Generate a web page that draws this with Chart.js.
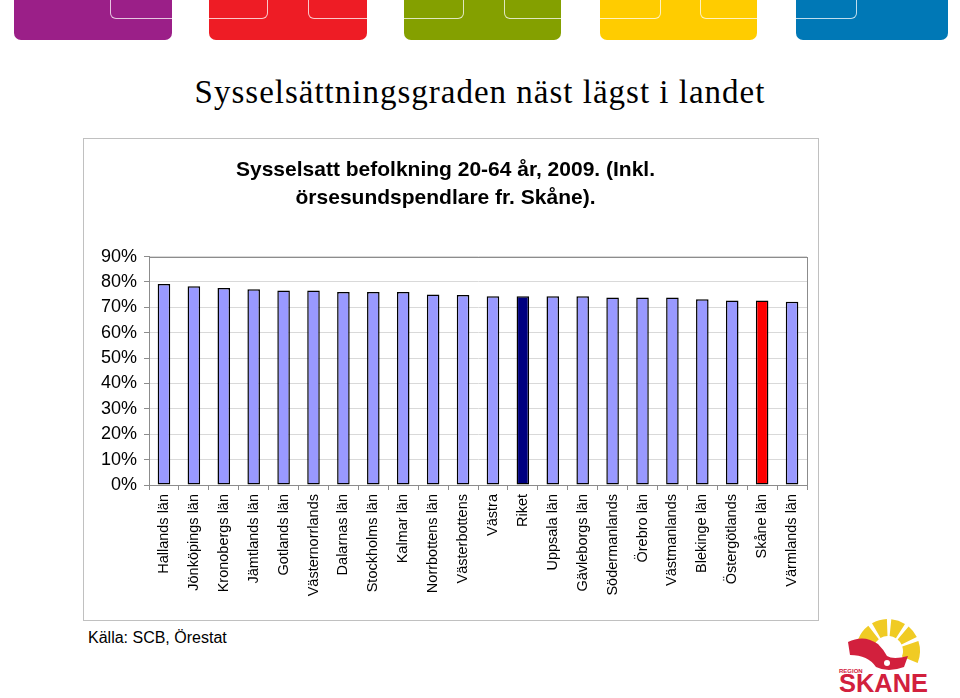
<!DOCTYPE html>
<html>
<head>
<meta charset="utf-8">
<script src="https://cdn.jsdelivr.net/npm/chart.js@4/dist/chart.umd.min.js"></script>
<style>
  body { margin: 0; width: 960px; height: 698px; background: #fff; position: relative; overflow: hidden; font-family: "Liberation Sans", Arial, sans-serif; }
  .tab { position: absolute; top: 0; height: 40px; border-radius: 0 0 7px 7px; overflow: hidden; }
  .notch { position: absolute; border: 1px solid rgba(255,255,255,0.75); }
  #headline { position: absolute; left: 0; width: 960px; top: 76px; text-align: center; font-family: "Liberation Serif", "Times New Roman", serif; font-size: 33px; line-height: 33px; letter-spacing: 1px; color: #000; }
  #frame { position: absolute; left: 83px; top: 138px; width: 736px; height: 483px; border: 1px solid #c0c0c0; box-sizing: border-box; }
  #source { position: absolute; left: 88px; top: 630px; font-size: 16px; line-height: 16px; color: #000; }
  #logo { position: absolute; left: 830px; top: 605px; }
</style>
</head>
<body>
<div class="tab" style="left:14px;width:158px;background:#9b1f88;">
  <div class="notch" style="left:96px;top:-8px;width:80px;height:26px;border-right:none;border-top:none;border-radius:0 0 0 6px;"></div>
</div>
<div class="tab" style="left:209px;width:158px;background:#ee1c25;">
  <div class="notch" style="left:-8px;top:-8px;width:66px;height:26px;border-left:none;border-top:none;border-radius:0 0 6px 0;"></div>
  <div class="notch" style="left:99px;top:-8px;width:70px;height:26px;border-right:none;border-top:none;border-radius:0 0 0 6px;"></div>
</div>
<div class="tab" style="left:404px;width:157px;background:#84a000;">
  <div class="notch" style="left:-8px;top:-8px;width:67px;height:26px;border-left:none;border-top:none;border-radius:0 0 6px 0;"></div>
  <div class="notch" style="left:100px;top:-8px;width:70px;height:26px;border-right:none;border-top:none;border-radius:0 0 0 6px;"></div>
</div>
<div class="tab" style="left:600px;width:157px;background:#ffcc00;">
  <div class="notch" style="left:-8px;top:-8px;width:68px;height:26px;border-left:none;border-top:none;border-radius:0 0 6px 0;"></div>
  <div class="notch" style="left:100px;top:-8px;width:70px;height:26px;border-right:none;border-top:none;border-radius:0 0 0 6px;"></div>
</div>
<div class="tab" style="left:796px;width:152px;background:#0078b6;">
  <div class="notch" style="left:-8px;top:-8px;width:68px;height:26px;border-left:none;border-top:none;border-radius:0 0 6px 0;"></div>
</div>

<div id="headline">Sysselsättningsgraden näst lägst i landet</div>

<div id="frame"><canvas id="employment-chart"></canvas></div>

<div id="source">Källa: SCB, Örestat</div>

<svg id="logo" width="110" height="92" viewBox="0 0 110 92">
  <g id="sun" fill="#f0cb24"></g>
  <path d="M18 37 Q34 29 48 39 Q54 45 57 51 Q63 55 78 51 L74 62 Q58 68 46 62 Q38 50 20 50 Z" fill="#d2203d"/>
  <circle cx="57" cy="58" r="3" fill="#fff"/>
  <text x="9" y="68" font-family="Liberation Sans, Arial, sans-serif" font-size="6" font-weight="bold" fill="#d2203d">REGION</text>
  <text x="9" y="87" font-family="Liberation Sans, Arial, sans-serif" font-size="25" font-weight="bold" fill="#d2203d" textLength="89" lengthAdjust="spacingAndGlyphs">SKANE</text>
</svg>

<script>
// Sysselsatt befolkning 20-64 år, 2009
const counties = [
    'Hallands län', 'Jönköpings län', 'Kronobergs län', 'Jämtlands län', 'Gotlands län',
    'Västernorrlands', 'Dalarnas län', 'Stockholms län', 'Kalmar län', 'Norrbottens län',
    'Västerbottens', 'Västra', 'Riket', 'Uppsala län', 'Gävleborgs län',
    'Södermanlands', 'Örebro län', 'Västmanlands', 'Blekinge län', 'Östergötlands',
    'Skåne län', 'Värmlands län'
];
const employmentRate = [
    79.2, 78.3, 77.6, 77.1, 76.6,
    76.6, 76.1, 76.1, 76.1, 75.1,
    74.9, 74.4, 74.4, 74.4, 74.4,
    73.9, 73.9, 73.9, 73.2, 72.7,
    72.7, 72.2
];
const yTicks = [0, 10, 20, 30, 40, 50, 60, 70, 80, 90];

// logo sun rays (decoration only)
const sun = document.getElementById('sun');
[[-158, -128], [-120, -92], [-84, -58], [-50, -26], [-18, 22]].forEach(([a0, a1]) => {
    const cx = 58, cy = 46, r0 = 15, r1 = 32;
    const p = (r, a) => (cx + r * Math.cos(a * Math.PI / 180)).toFixed(1) + ' ' + (cy + r * Math.sin(a * Math.PI / 180)).toFixed(1);
    const path = document.createElementNS('http://www.w3.org/2000/svg', 'path');
    path.setAttribute('d', 'M' + p(r0, a0) + ' L' + p(r1, a0) + ' A' + r1 + ' ' + r1 + ' 0 0 1 ' + p(r1, a1) +
        ' L' + p(r0, a1) + ' A' + r0 + ' ' + r0 + ' 0 0 0 ' + p(r0, a0) + ' Z');
    sun.appendChild(path);
});

function barColor(name) {
    if (name === 'Riket') return '#000080';
    if (name === 'Skåne län') return '#ff0000';
    return '#9999ff';
}

// draws the grey box round the plot area
const plotFrame = {
    id: 'plotFrame',
    afterDraw(chart) {
        const a = chart.chartArea;
        const ctx = chart.ctx;
        ctx.save();
        ctx.strokeStyle = '#8c8c8c';
        ctx.lineWidth = 1;
        ctx.strokeRect(Math.round(a.left) + 0.5, Math.round(a.top) + 0.5, Math.round(a.right - a.left), Math.round(a.bottom - a.top));
        ctx.restore();
    }
};

const ctx = document.getElementById('employment-chart');

new Chart(ctx, {
    type: 'bar',
    data: {
        labels: counties,
        datasets: [{
            data: employmentRate,
            backgroundColor: counties.map(barColor),
            borderColor: '#000',
            borderWidth: 1.5,
            borderSkipped: false,
            barPercentage: 0.42,
            categoryPercentage: 1
        }]
    },
    options: {
        responsive: true,
        maintainAspectRatio: false,
        animation: false,
        layout: {
            padding: { top: 18, right: 11, bottom: 0, left: 0 }
        },
        plugins: {
            legend: { display: false },
            tooltip: { enabled: false },
            title: {
                display: true,
                text: ['Sysselsatt befolkning 20-64 år, 2009. (Inkl.', 'örsesundspendlare fr. Skåne).'],
                color: '#000',
                font: { family: '"Liberation Sans", Arial, sans-serif', size: 21, weight: 'bold', lineHeight: 1.3 },
                padding: { top: 0, bottom: 45 }
            }
        },
        scales: {
            x: {
                grid: { display: true, drawOnChartArea: false, offset: true, tickLength: 5, color: '#8c8c8c' },
                border: { color: '#8c8c8c' },
                ticks: {
                    autoSkip: false,
                    maxRotation: 90,
                    minRotation: 90,
                    padding: 4,
                    color: '#000',
                    font: { family: '"Liberation Sans", Arial, sans-serif', size: 14.5 }
                },
                afterFit(scale) { scale.height = 135; }
            },
            y: {
                min: 0,
                max: 90,
                afterBuildTicks(scale) { scale.ticks = yTicks.map(v => ({ value: v })); },
                grid: { color: '#d9d9d9', tickColor: '#8c8c8c', tickLength: 5 },
                border: { color: '#8c8c8c' },
                ticks: {
                    padding: 7,
                    color: '#000',
                    font: { family: '"Liberation Sans", Arial, sans-serif', size: 18 },
                    callback: v => v + '%'
                },
                afterFit(scale) { scale.width = 65; }
            }
        }
    },
    plugins: [plotFrame]
});
</script>
</body>
</html>
